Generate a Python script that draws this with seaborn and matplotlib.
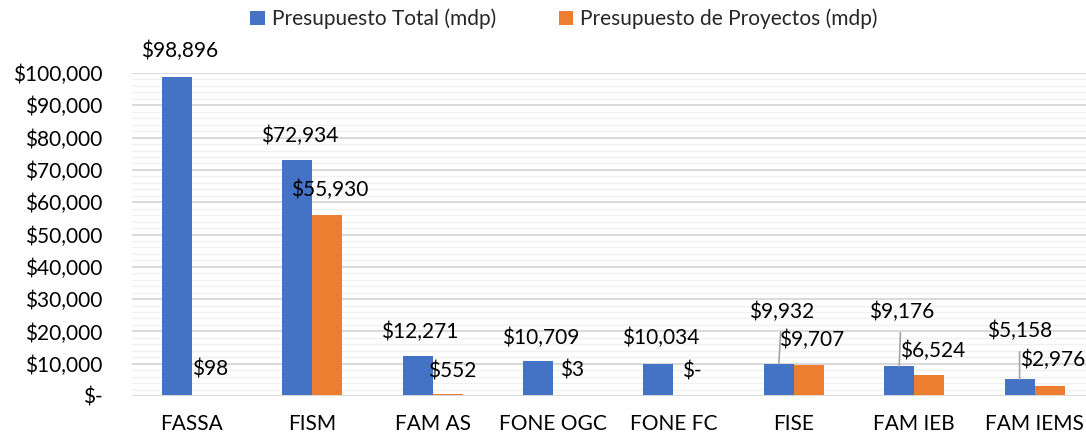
import numpy as np
import pandas as pd
import matplotlib
matplotlib.use('Agg')
import matplotlib.pyplot as plt
import matplotlib.ticker as mticker
import seaborn as sns

# Data (millones de pesos)
categories = ['FASSA', 'FISM', 'FAM AS', 'FONE OGC', 'FONE FC', 'FISE', 'FAM IEB', 'FAM IEMS']
total_budget = [98896, 72934, 12271, 10709, 10034, 9932, 9176, 5158]
project_budget = [98, 55930, 552, 3, 0, 9707, 6524, 2976]
series_names = ['Presupuesto Total (mdp)', 'Presupuesto de Proyectos (mdp)']

CLR_TOTAL = '#4472C4'
CLR_PROJ = '#ED7D31'
FS = 15

sns.set_theme(style='white')
plt.rcParams['font.family'] = ['Lato', 'DejaVu Sans']

df = pd.DataFrame({
    'categoria': categories * 2,
    'serie': [series_names[0]] * len(categories) + [series_names[1]] * len(categories),
    'valor': total_budget + project_budget,
})

fig = plt.figure(figsize=(10.86, 4.38), dpi=100)
ax = fig.add_axes([131.8 / 1086, 1 - 396 / 438, 963 / 1086, 323 / 438])

sns.barplot(data=df, x='categoria', y='valor', hue='serie',
            order=categories, hue_order=series_names,
            palette=[CLR_TOTAL, CLR_PROJ], width=0.5, errorbar=None,
            saturation=1, linewidth=0, ax=ax)

ax.set_xlim(-0.5, len(categories) - 0.5)
ax.set_ylim(0, 100000)
ax.yaxis.set_major_locator(mticker.MultipleLocator(10000))
ax.yaxis.set_minor_locator(mticker.MultipleLocator(2000))
ax.yaxis.set_major_formatter(mticker.FuncFormatter(
    lambda v, _: '$-' if v == 0 else f'${v:,.0f}'))
ax.grid(axis='y', which='major', color='#d9d9d9', linewidth=1.4, zorder=0)
ax.grid(axis='y', which='minor', color='#f0f0f0', linewidth=1.0, zorder=0)
ax.set_axisbelow(True)
for s in ax.spines.values():
    s.set_visible(False)
ax.axhline(0, color='#d9d9d9', linewidth=1.4, zorder=1)
ax.tick_params(axis='y', length=0, pad=21, labelsize=FS, colors='black')
ax.tick_params(axis='x', length=0, pad=13, labelsize=FS, colors='black')
ax.set_xlabel('')
ax.set_ylabel('')

# data labels: offsets in pixels from the bar top (dx, dy, leader line?)
offsets_total = [(3, 26, False), (2, 25, False), (2, 24, False), (3, 24, False),
                 (2, 26, False), (3, 52, True), (2, 54, True), (0, 48, True)]
offsets_proj = [(3, 26, False), (2, 25, False), (4, 23, False), (4, 25, False),
                (3, 25, False), (3, 25, False), (3, 24, False), (3, 26, False)]

for container, offs in zip(ax.containers[:2], [offsets_total, offsets_proj]):
    for bar, (dx, dy, leader) in zip(container, offs):
        h = bar.get_height()
        txt = '$-' if h == 0 else f'${h:,.0f}'
        kw = {}
        if leader:
            kw['arrowprops'] = dict(arrowstyle='-', color='#a6a6a6', lw=1.2,
                                    shrinkA=5, shrinkB=0)
        ax.annotate(txt, xy=(bar.get_x() + bar.get_width() / 2, h),
                    xytext=(dx, dy), textcoords='offset pixels',
                    ha='center', va='center', fontsize=FS, color='black',
                    annotation_clip=False, **kw)

handles, labels = ax.get_legend_handles_labels()
ax.legend_.remove()
fig.legend(handles, labels, loc='center', ncol=2,
           bbox_to_anchor=(564 / 1086, 1 - 19 / 438),
           frameon=False, fontsize=FS, handlelength=0.7, handleheight=0.7,
           handletextpad=0.35, columnspacing=3.0)

fig.savefig('out.png', dpi=100)
